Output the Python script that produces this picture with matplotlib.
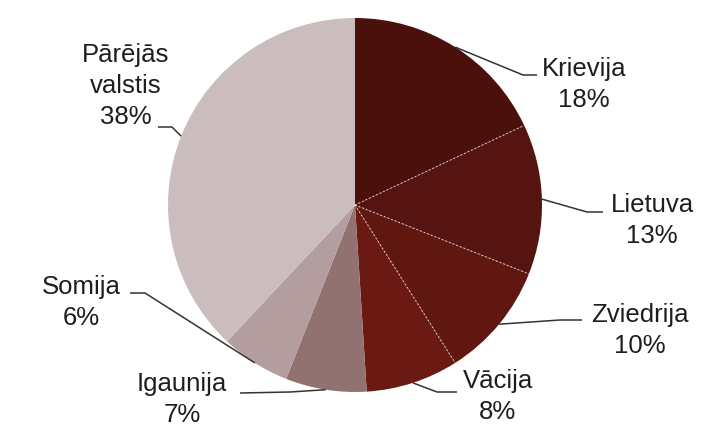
import numpy as np
import matplotlib
matplotlib.use("Agg")
import matplotlib.pyplot as plt

# export shares by country, %
countries = ["Krievija", "Lietuva", "Zviedrija", "Vācija", "Igaunija", "Somija", "Pārējās\nvalstis"]
shares = [18, 13, 10, 8, 7, 6, 38]
colors = ["#4b100b", "#561410", "#5f1710", "#6b1a13", "#917271", "#b49d9e", "#cbbdbe"]

# label layout in pixels: (text centre x, first baseline y), leader elbow, leader end
label_pos = [(584, 76), (652, 212), (640, 322), (498, 388), (182, 391), (81, 294), (126, 62)]
leader_elbow = [(523, 75), (587, 212), (560, 320), (437, 392), (290, 392), (145, 293), (172, 127)]
leader_end = [(537, 75), (603, 212), (582, 320), (457, 392), (240, 393), (130, 293), (158, 127)]
LINE_PX = 31

W, H = 719, 441
CX, CY, R = 355, 205, 187


def px(p):
    return ((p[0] - CX) / R, (CY - p[1]) / R)


fig = plt.figure(figsize=(W / 100, H / 100), dpi=100)
fig.patch.set_facecolor("white")
ax = fig.add_axes([0, 0, 1, 1])

wedges, _ = ax.pie(shares, colors=colors, startangle=90, counterclock=False,
                   radius=1, wedgeprops=dict(linewidth=0))

# dotted white separators between the dark slices
cum = np.cumsum(shares) / sum(shares)
for c in cum[:3]:
    a = np.deg2rad(90 - 360 * c)
    ax.plot([0, np.cos(a)], [0, np.sin(a)], color="white", lw=0.8, ls=(0, (1.5, 2)), alpha=0.7)

# labels with leader lines
starts = np.concatenate([[0], cum[:-1]])
for i, name in enumerate(countries):
    mid = np.deg2rad(90 - 360 * (starts[i] + cum[i]) / 2)
    p0 = (np.cos(mid), np.sin(mid))
    p1 = px(leader_elbow[i])
    p2 = px(leader_end[i])
    ax.plot([p0[0], p1[0], p2[0]], [p0[1], p1[1], p2[1]], color="#333333", lw=1.1,
            solid_capstyle="butt")
    lines = name.split("\n") + [f"{shares[i]}%"]
    for k, line in enumerate(lines):
        tx, ty = px((label_pos[i][0], label_pos[i][1] + k * LINE_PX))
        ax.text(tx, ty, line, ha="center", va="baseline",
                fontsize=18.5, family="Liberation Sans", color="#1e1e1e")

ax.set_aspect("auto")
ax.set_xlim(-CX / R, (W - CX) / R)
ax.set_ylim((CY - H) / R, CY / R)
ax.axis("off")

fig.savefig("out.png", dpi=100, facecolor="white")
